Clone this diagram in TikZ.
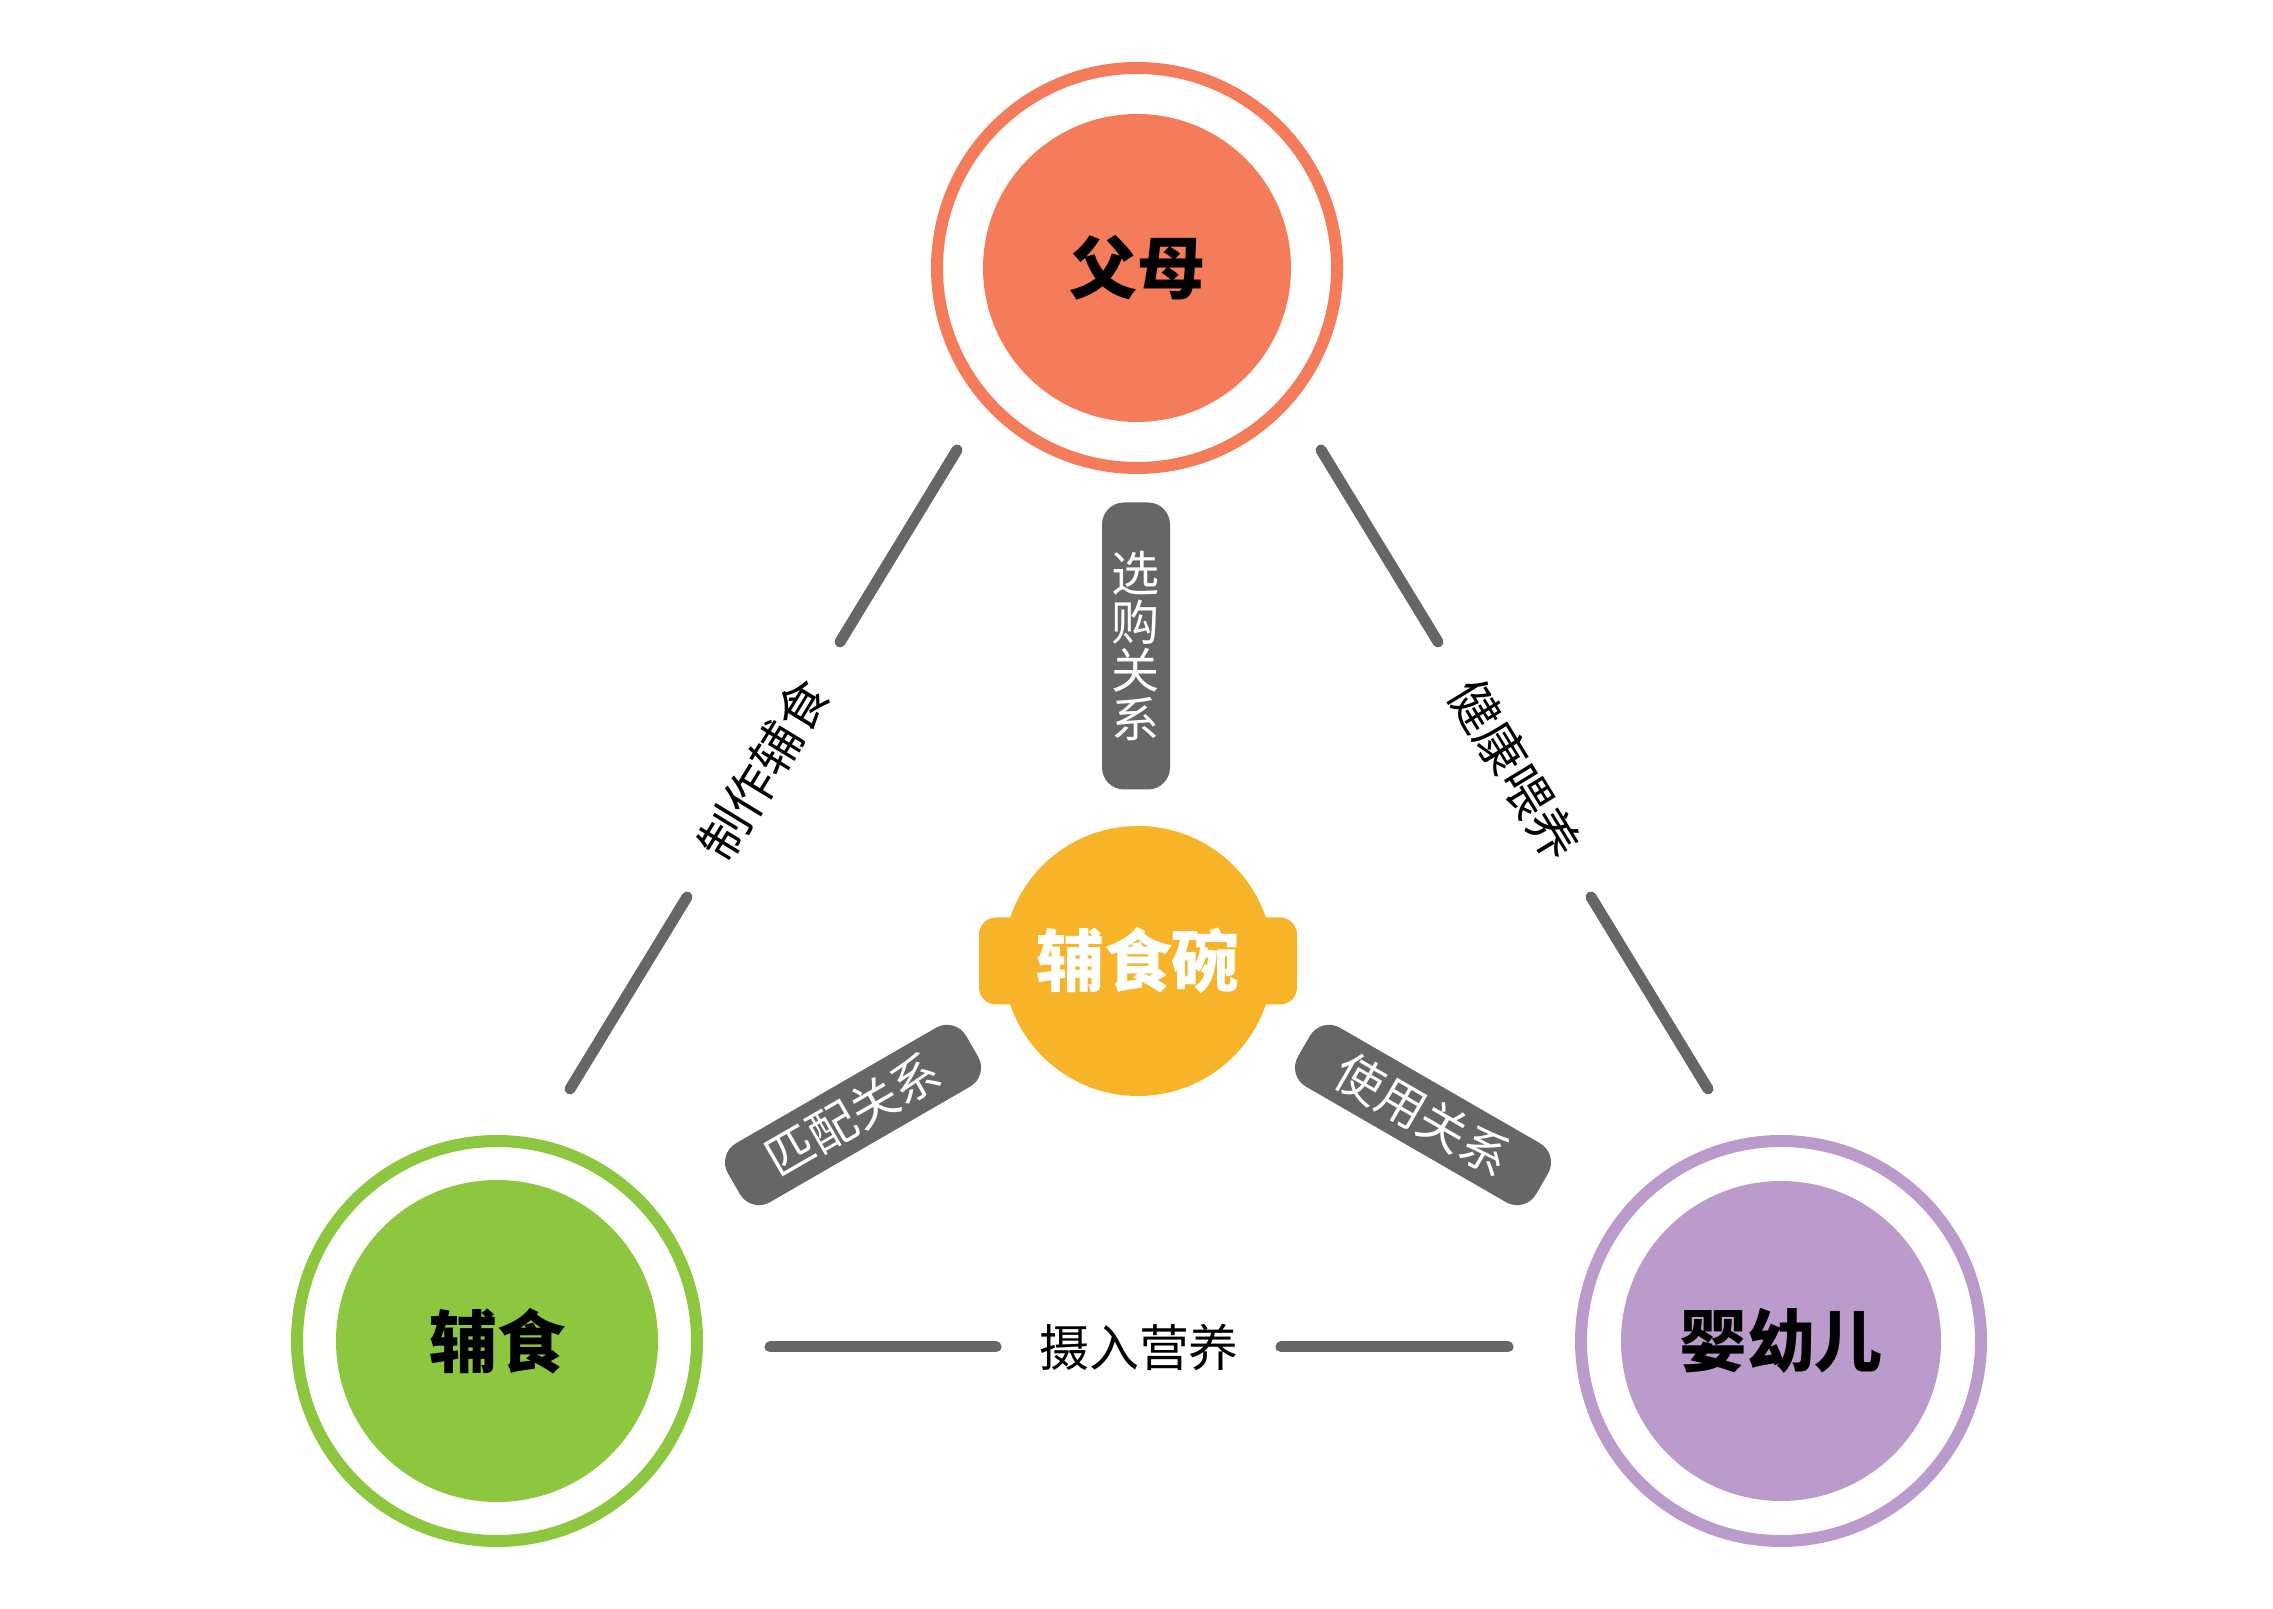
\documentclass[tikz,border=0pt]{standalone}
\usepackage{fontspec}
\setmainfont{Noto Sans CJK SC}
\usetikzlibrary{calc, positioning}
\definecolor{parentorange}{HTML}{F47C5A}
\definecolor{foodgreen}{HTML}{8DC63F}
\definecolor{babypurple}{HTML}{BB9BCB}
\definecolor{bowlyellow}{HTML}{F8B429}
\definecolor{linkgray}{HTML}{666666}

\begin{document}
\begin{tikzpicture}[
  link/.style={line width=0.11cm, linkgray, line cap=round},
  ringline/.style={line width=0.12cm, draw=#1},
  hubnode/.style={circle, fill=#1, inner sep=0pt, text=black,
    font=\fontsize{19.3pt}{20pt}\selectfont\bfseries},
  linklabel/.style={inner sep=0pt, text=black,
    font=\fontsize{14.2pt}{15pt}\selectfont},
  relbox/.style={fill=linkgray, rounded corners=0.22cm, inner sep=0pt,
    text=white, font=\fontsize{13.7pt}{13.9pt}\selectfont}]
  \useasboundingbox (0,0) rectangle (22.73,16.09);
  % the three partners
  \node[hubnode=parentorange, minimum size=3.08cm] (parent) at (11.37,13.41) {父母};
  \draw[ringline=parentorange] (parent.center) circle (2.0);
  \node[hubnode=foodgreen, minimum size=3.22cm] (food) at (4.97,2.68) {辅食};
  \draw[ringline=foodgreen] (food.center) circle (2.0);
  \node[hubnode=babypurple, minimum size=3.20cm] (baby) at (17.81,2.68) {婴幼儿};
  \draw[ringline=babypurple] (baby.center) circle (2.0);
  % bowl in the middle
  \node[fill=bowlyellow, rounded corners=0.17cm, minimum width=3.18cm,
    minimum height=0.87cm] (rim) at (11.38,6.48) {};
  \node[hubnode=bowlyellow, minimum size=2.70cm, text=white] (bowl) at (rim.center) {辅食碗};
  % relation tags round the bowl
  \node[relbox, minimum width=0.68cm, minimum height=2.87cm, align=center]
    (buy) at (11.36,9.63) {选\\购\\关\\系};
  \node[relbox, minimum width=2.75cm, minimum height=0.68cm, rotate=30]
    (match) at (8.53,4.94) {匹配关系};
  \node[relbox, minimum width=2.75cm, minimum height=0.68cm, rotate=-30]
    (use) at (14.23,4.94) {使用关系};
  % outer links, cut by their labels
  \node[linklabel, rotate=58.6] (make) at (7.635,8.395) {制作辅食};
  \node[linklabel, rotate=-58.6] (feed) at (15.145,8.395) {健康喂养};
  \node[linklabel] (eat) at (11.39,2.62) {摄入营养};
  \coordinate (make1) at (9.57,11.59);
  \coordinate (make2) at (8.40,9.67);
  \coordinate (make3) at (6.87,7.12);
  \coordinate (make4) at (5.70,5.20);
  \coordinate (feed1) at (13.21,11.59);
  \coordinate (feed2) at (14.38,9.67);
  \coordinate (feed3) at (15.91,7.12);
  \coordinate (feed4) at (17.08,5.20);
  \coordinate (eat1) at (7.70,2.62);
  \coordinate (eat2) at (9.96,2.62);
  \coordinate (eat3) at (12.81,2.62);
  \coordinate (eat4) at (15.08,2.62);
  \draw[link] (make1) -- (make2);
  \draw[link] (make3) -- (make4);
  \draw[link] (feed1) -- (feed2);
  \draw[link] (feed3) -- (feed4);
  \draw[link] (eat1) -- (eat2);
  \draw[link] (eat3) -- (eat4);
\end{tikzpicture}
\end{document}
